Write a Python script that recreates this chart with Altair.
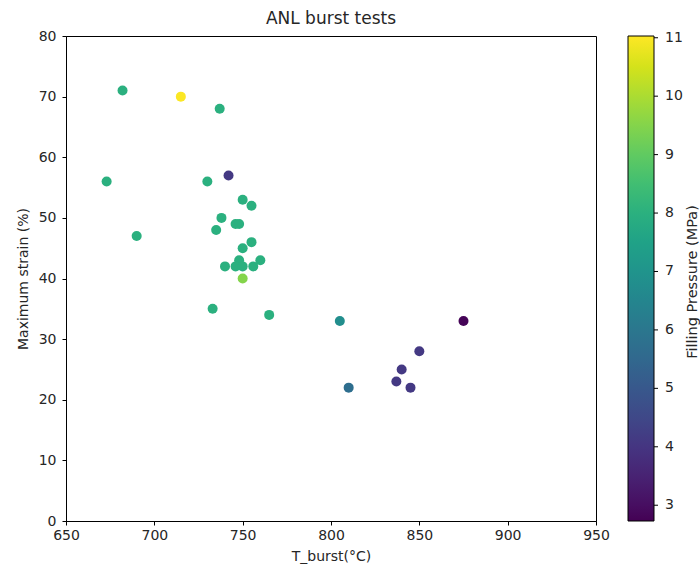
import altair as alt
import pandas as pd

temps = [682, 715, 737, 673, 730, 742, 750, 755, 738, 746, 748, 735, 690, 755, 750,
         748, 760, 740, 746, 750, 756, 750, 733, 765, 805, 875, 850, 840, 837, 845, 810]
strains = [71, 70, 68, 56, 56, 57, 53, 52, 50, 49, 49, 48, 47, 46, 45,
           43, 43, 42, 42, 42, 42, 40, 35, 34, 33, 33, 28, 25, 23, 22, 22]
pressures = [8, 11, 8, 8, 8, 4.1, 8, 8, 8, 8, 8, 8, 8, 8, 8,
             8, 8, 8, 8, 8, 8, 9.5, 8, 8, 6.8, 2.8, 4.1, 4.1, 4.1, 4.1, 5.7]

x_ticks = [650, 700, 750, 800, 850, 900, 950]
y_ticks = [0, 10, 20, 30, 40, 50, 60, 70, 80]
cbar_ticks = [3, 4, 5, 6, 7, 8, 9, 10, 11]
cbar_domain = [2.73, 11.03]
cbar_title = ["Filling Pressure (MPa)"]

df = pd.DataFrame({"T_burst": temps, "strain": strains, "pressure": pressures})
ticks_df = pd.DataFrame({"p": cbar_ticks})

FONT = "DejaVu Sans"
TXT = "#262626"
W, H = 530, 485

points = alt.Chart(df).mark_circle(size=100, opacity=1).encode(
    x=alt.X("T_burst:Q",
            scale=alt.Scale(domain=[650, 950], nice=False, zero=False),
            axis=alt.Axis(title="T_burst(°C)", values=x_ticks, grid=False,
                          tickSize=4, labelPadding=3, titlePadding=7, labelFlush=False,
                          domainColor="black", tickColor="black",
                          labelColor=TXT, titleColor=TXT,
                          labelFontSize=14, titleFontSize=14,
                          labelFont=FONT, titleFont=FONT, titleFontWeight="normal")),
    y=alt.Y("strain:Q",
            scale=alt.Scale(domain=[0, 80], nice=False),
            axis=alt.Axis(title="Maximum strain (%)", values=y_ticks, grid=False,
                          tickSize=4, labelPadding=6, titlePadding=8, labelFlush=False,
                          domainColor="black", tickColor="black",
                          labelColor=TXT, titleColor=TXT,
                          labelFontSize=14, titleFontSize=14,
                          labelFont=FONT, titleFont=FONT, titleFontWeight="normal")),
    color=alt.Color("pressure:Q",
                    scale=alt.Scale(scheme="viridis", domain=cbar_domain, nice=False, zero=False),
                    legend=alt.Legend(title=None, orient="none",
                                      legendX=562, legendY=0, direction="vertical",
                                      gradientLength=H, gradientThickness=26,
                                      gradientStrokeColor="black", gradientStrokeWidth=1,
                                      values=cbar_ticks, labelOverlap=False,
                                      labelFontSize=14, labelFont=FONT, labelColor=TXT,
                                      labelOffset=11)),
)

cbar_tick_marks = alt.Chart(ticks_df).mark_rule(color="black", strokeWidth=1).encode(
    y=alt.Y("p:Q", scale=alt.Scale(domain=cbar_domain, range=[H, 0], nice=False, zero=False),
            axis=None),
    x=alt.value(588), x2=alt.value(592),
)

cbar_label = alt.Chart(pd.DataFrame({"t": cbar_title})).mark_text(
    angle=270, align="center", baseline="middle", font=FONT, fontSize=14.5, color=TXT
).encode(text="t:N", x=alt.value(627), y=alt.value(246))

chart = alt.layer(points, cbar_tick_marks, cbar_label).resolve_scale(
    y="independent"
).properties(
    width=W, height=H,
    title=alt.TitleParams("ANL burst tests", fontSize=17, fontWeight="normal",
                          font=FONT, color=TXT, offset=7, frame="group", dy=6),
    padding={"left": 66, "top": 36, "right": 104, "bottom": 49},
    autosize=alt.AutoSizeParams(type="none"),
).configure_view(stroke="black", strokeWidth=1)

chart.save("out.html", embed_options={"renderer": "svg", "actions": False})
